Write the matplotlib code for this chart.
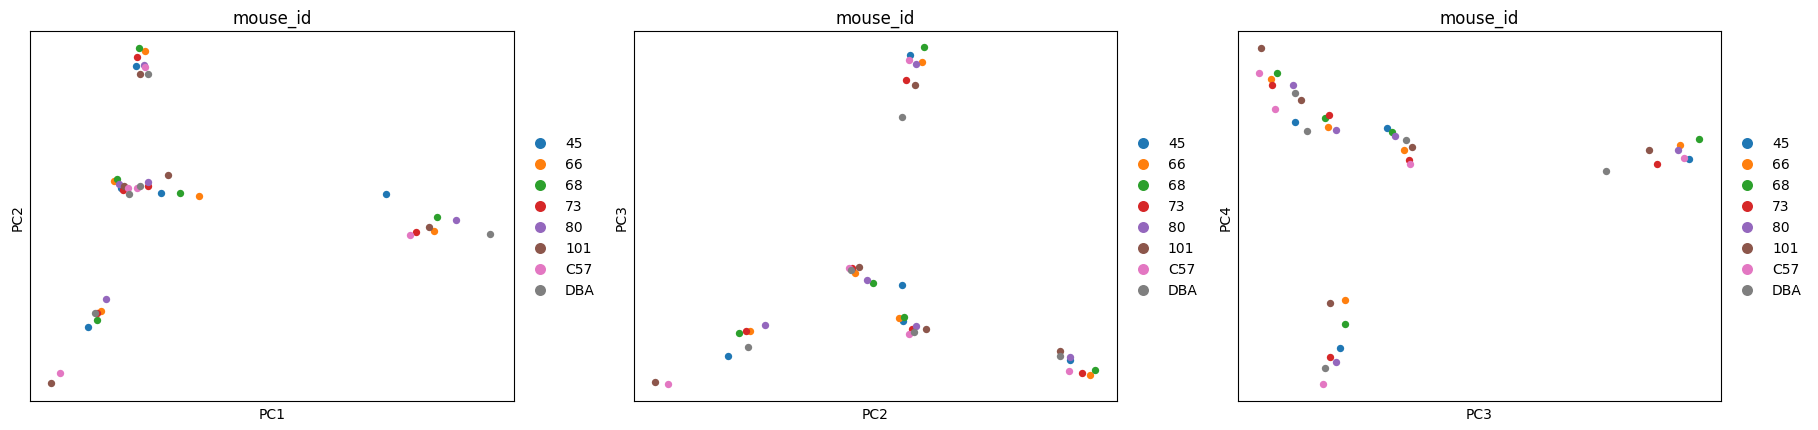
import matplotlib
matplotlib.use("Agg")
import matplotlib.pyplot as plt

groups = ["45", "66", "68", "73", "80", "101", "C57", "DBA"]
colors = ["#1f77b4", "#ff7f0e", "#2ca02c", "#d62728", "#9467bd", "#8c564b", "#e377c2", "#7f7f7f"]

# panel 1: PC1 vs PC2 (arbitrary units)
p1 = {
 "45": [(117,58),(104,163),(139,167),(333,168),(76,283)],
 "66": [(125,45),(98,157),(172,170),(374,200),(87,269)],
 "68": [(120,42),(101,155),(155,167),(377,188),(84,277)],
 "73": [(118,50),(106,165),(128,161),(359,201),(84,271)],
 "80": [(124,57),(103,160),(128,158),(393,191),(91,259)],
 "101": [(121,65),(107,161),(145,152),(370,197),(44,331)],
 "C57": [(125,59),(110,163),(118,163),(354,204),(52,323)],
 "DBA": [(128,65),(111,168),(121,161),(423,203),(82,271)],
}
p2 = {
 "45": [(785,48),(778,247),(779,278),(628,308),(923,311)],
 "66": [(795,54),(737,236),(775,275),(647,286),(940,324)],
 "68": [(797,41),(753,245),(780,274),(637,288),(944,320)],
 "73": [(781,70),(735,232),(787,285),(643,286),(933,323)],
 "80": [(790,56),(748,242),(790,282),(660,281),(923,309)],
 "101": [(789,74),(741,231),(799,285),(565,330),(914,304)],
 "C57": [(784,53),(732,232),(784,289),(576,332),(922,321)],
 "DBA": [(778,102),(734,234),(788,287),(645,300),(914,308)],
}
p3 = {
 "45": [(1117,106),(1196,111),(1457,138),(1156,301)],
 "66": [(1096,69),(1145,110),(1211,130),(1449,126),(1160,260)],
 "68": [(1101,64),(1143,103),(1201,115),(1465,121),(1160,280)],
 "73": [(1097,74),(1146,100),(1215,139),(1429,142),(1147,309)],
 "80": [(1115,74),(1152,113),(1203,118),(1447,130),(1152,313)],
 "101": [(1088,42),(1122,87),(1218,128),(1422,130),(1147,262)],
 "C57": [(1086,64),(1100,95),(1216,142),(1452,137),(1141,332)],
 "DBA": [(1117,81),(1127,114),(1213,122),(1385,148),(1143,318)],
}
panels = [(p1, "PC1", "PC2", 26, 443), (p2, "PC2", "PC3", 547, 963), (p3, "PC3", "PC4", 1068, 1484)]

W, H = 1568.0, 371.8
fig = plt.figure(figsize=(18.18, 4.31), dpi=100)
for data, xl, yl, x0, x1 in panels:
    ax = fig.add_axes([x0/W, 1-347/H, (x1-x0)/W, (347-28)/H])
    for g, c in zip(groups, colors):
        pts = data[g]
        ax.scatter([p[0] for p in pts], [-p[1] for p in pts], s=28, color=c, label=g, linewidths=0)
    ax.set_xlim(x0, x1)
    ax.set_ylim(-347, -28)
    ax.set_xticks([]); ax.set_yticks([])
    ax.set_xlabel(xl); ax.set_ylabel(yl)
    ax.set_title("mouse_id", fontsize=12)
    ax.legend(loc="center left", bbox_to_anchor=(1.0, 0.5), frameon=False, markerscale=1.5, fontsize=10)
fig.savefig("out.png", dpi=100)
